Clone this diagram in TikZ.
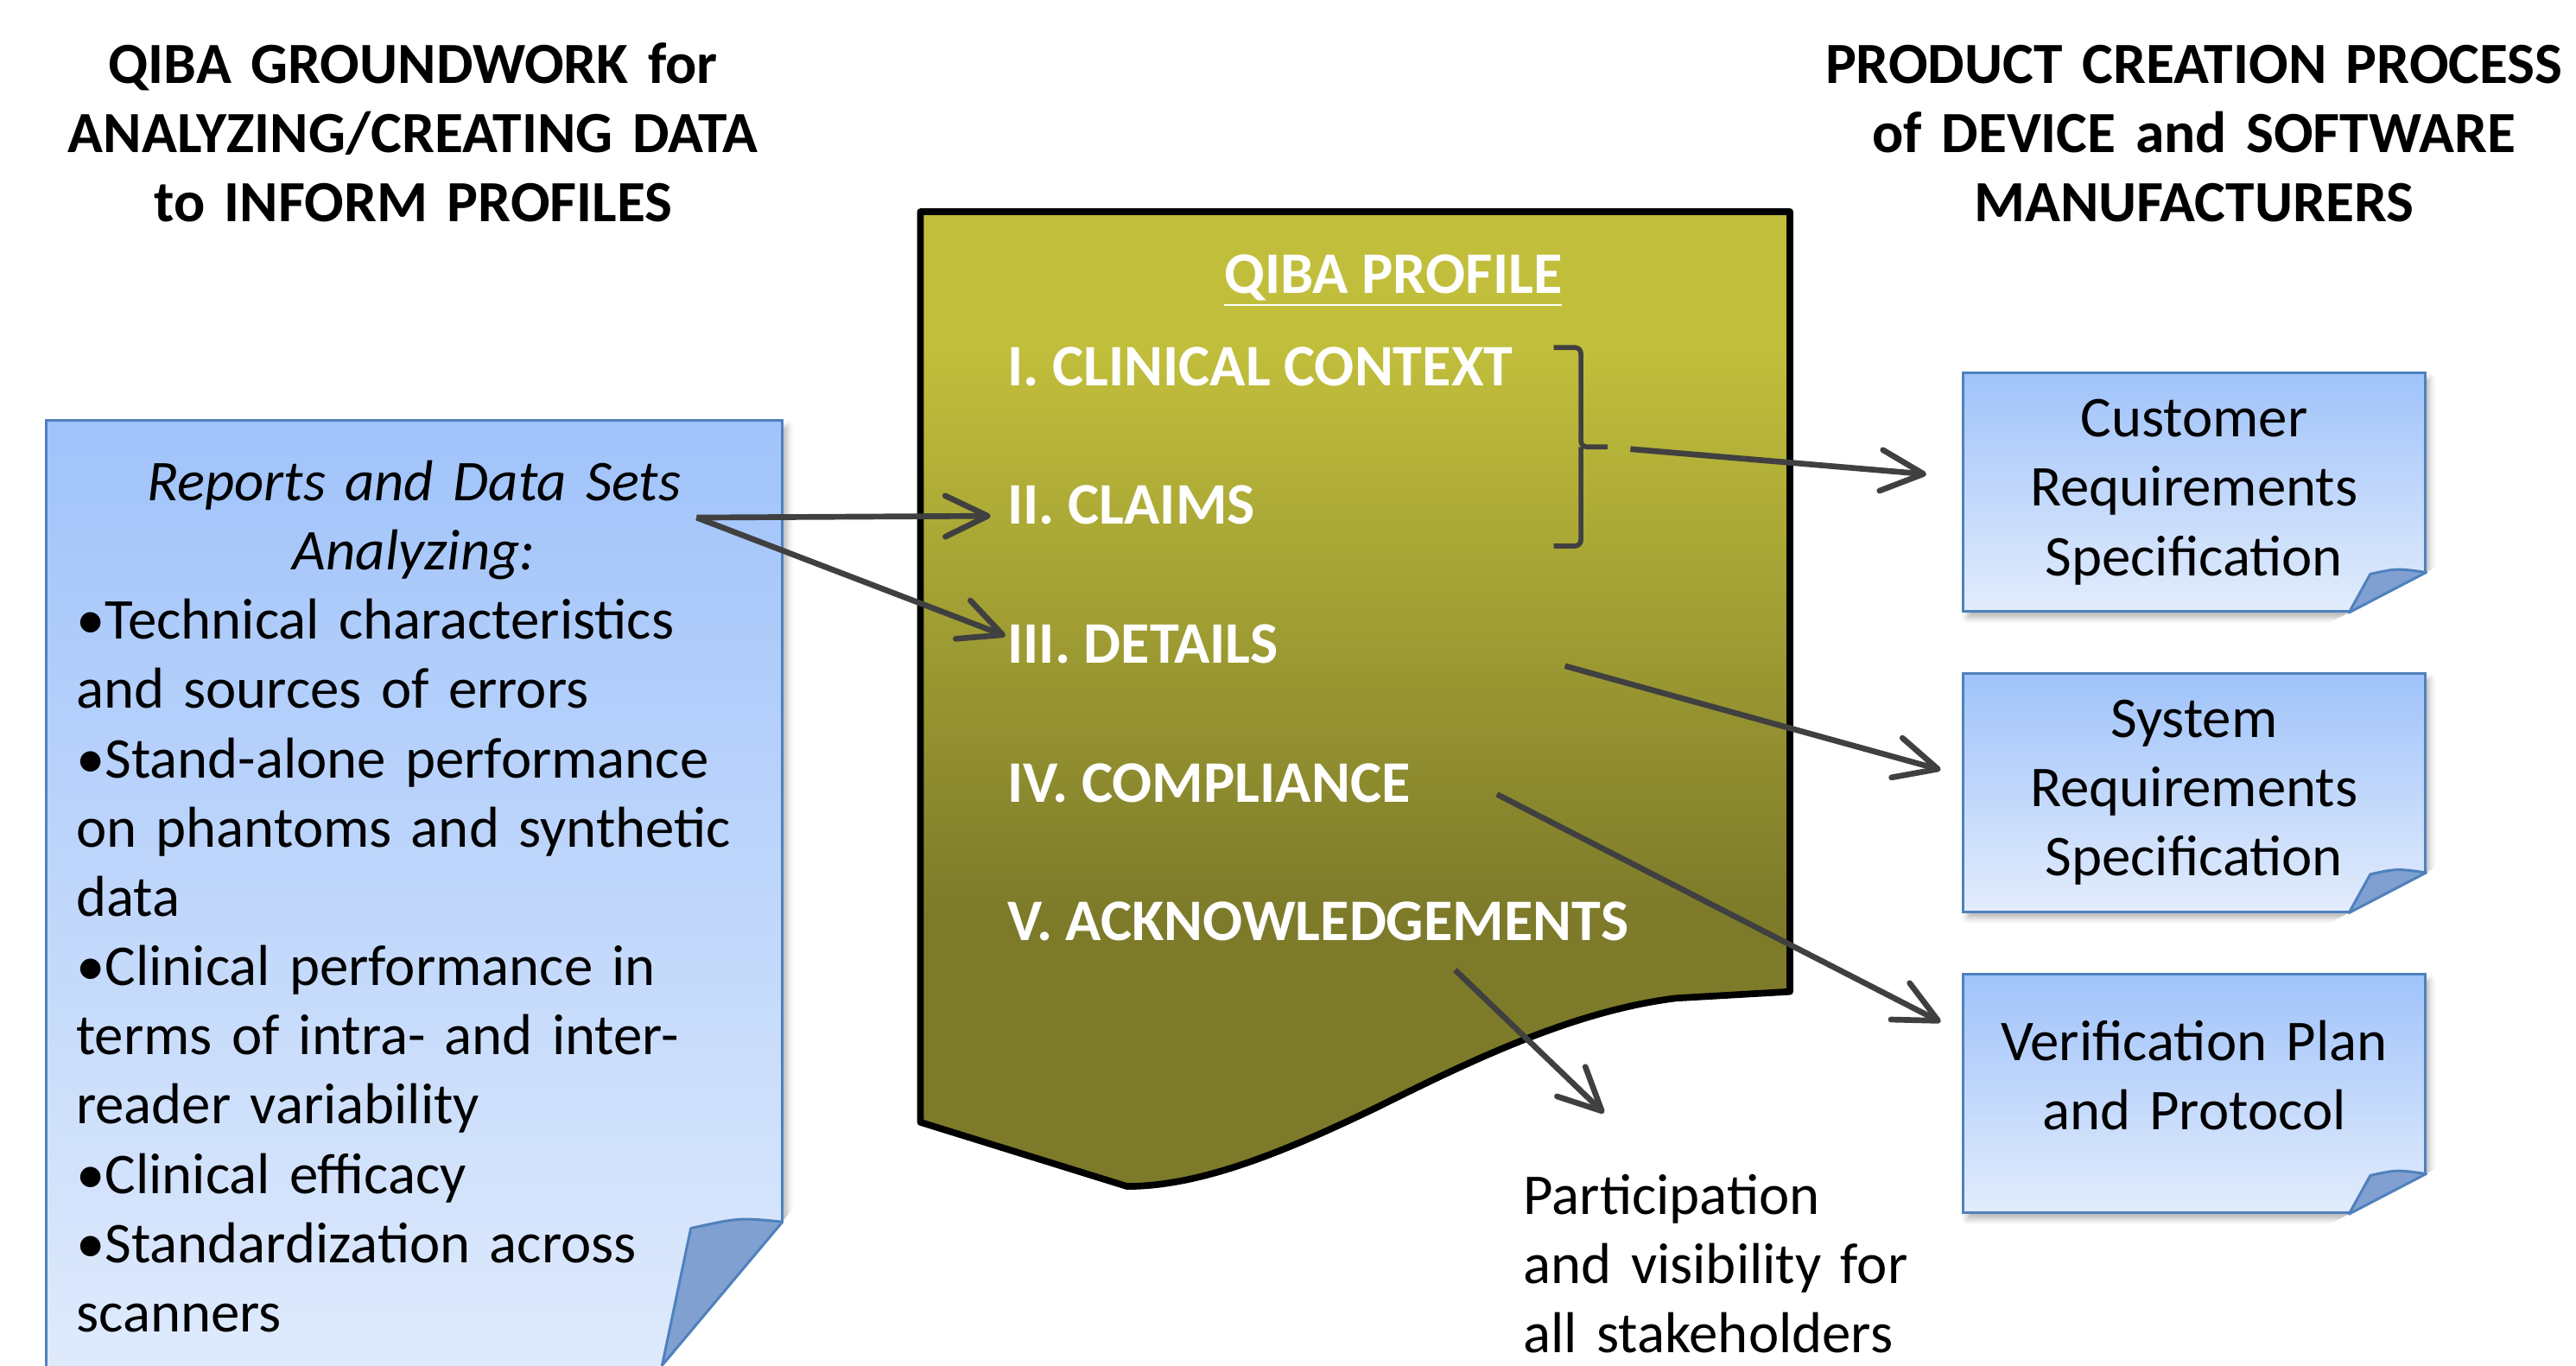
\documentclass[tikz,border=0pt]{standalone}
\usepackage{fontspec}
\setmainfont{Carlito}
\usetikzlibrary{positioning}
\usetikzlibrary{arrows.meta}
\usetikzlibrary{calc}
\usetikzlibrary{shadows.blur}

\definecolor{olivetop}{RGB}{193,190,60}
\definecolor{olivebot}{RGB}{125,123,42}
\definecolor{bluetop}{RGB}{160,195,250}
\definecolor{bluebot}{RGB}{226,236,252}
\definecolor{blueline}{RGB}{79,129,189}
\definecolor{flapblue}{RGB}{127,160,208}
\definecolor{arrowgray}{RGB}{64,64,64}

\pgfdeclareverticalshading{profilefade}{100bp}{color(0bp)=(olivebot); color(39bp)=(olivebot); color(68bp)=(olivetop); color(100bp)=(olivetop)}

\begin{document}
\begin{tikzpicture}[ x = 0.019018cm
                   , y = -0.019018cm
                   , >={Straight Barb[round, length=14pt, width=13.5pt]}
                   , every node/.style = { inner sep = 0pt }
                   ]
  \useasboundingbox (0,0) rectangle (1568,831);

  \tikzset{ title/.style={font=\fontsize{19.2}{22.8}\selectfont\bfseries, text width=265pt, align=center, anchor=base}
          , body/.style={font=\fontsize{19}{22.8}\selectfont}
          , spec/.style={draw=blueline, line width=0.85pt, top color=bluetop, bottom color=bluebot,
                         blur shadow={shadow xshift=1.5pt, shadow yshift=-2pt, shadow blur radius=2pt, shadow opacity=30}}
          , flap/.style={fill=flapblue, draw=blueline, line width=0.85pt, line join=round}
          , item/.style={text=white, font=\fontsize{19.4}{23}\selectfont\bfseries, anchor=west}
          , link/.style={draw=arrowgray, line width=1.9pt, ->}
          }

  %%
  %% Headings
  %%
  \node (groundtitle) [title] at (251.5,50.8) {QIBA GROUNDWORK for\\ ANALYZING/CREATING DATA\\ to INFORM PROFILES};
  \node (prodtitle) [title] at (1335.5,50.8) {PRODUCT CREATION PROCESS\\ of DEVICE and SOFTWARE\\ MANUFACTURERS};

  %%
  %% Reports box (left)
  %%
  \node (repbox) [spec, minimum width=242.6pt, minimum height=326.8pt] at (252.15,558) {};
  \fill[white] (484.3,734) -- (484.3,870) -- (370.3,870) -- cycle;
  \draw[flap] (476.3,743.6) .. controls (450,741) .. (420.5,747.5) -- (403,831) -- cycle;
  \node (rephead) [body, text width=240pt, align=center, anchor=base] at (252,304.5)
        {\itshape Reports and Data Sets\\ Analyzing:};
  \node (replist) [body, text width=225pt, align=left, anchor=base west] at (46,389)
        {•Technical characteristics\\ and sources of errors\\ •Stand-alone performance\\
         on phantoms and synthetic\\ data\\ •Clinical performance in\\ terms of intra- and inter-\\
         reader variability\\ •Clinical efficacy\\ •Standardization across\\ scanners};

  %%
  %% Specification boxes (right)
  %%
  \node (cust) [spec, body, minimum width=152pt, minimum height=78.5pt, text width=145pt, align=center]
        at (1335.5,299.5) {Customer\\ Requirements\\ Specification};
  \node (sys) [spec, body, minimum width=152pt, minimum height=78.5pt, text width=145pt, align=center,
        below = 19.5pt of cust] {System\\ Requirements\\ Specification};
  \node (ver) [spec, body, minimum width=152pt, minimum height=78.5pt, text width=145pt, align=center,
        text depth=35pt, below = 19.8pt of sys] {Verification Plan\\ and Protocol};
  % folded corners
  \foreach \b in {cust, sys, ver} {
    \fill[white] ($(\b.south east)+(8,-28.7)$) -- ($(\b.south east)+(8,10)$)
                 -- ($(\b.south east)+(-66,10)$) -- cycle;
    \draw[flap] ($(\b.south east)+(0,-24.5)$) .. controls ($(\b.south east)+(-18,-27)$)
                .. ($(\b.south east)+(-34,-23.5)$) -- ($(\b.south east)+(-47,0)$) -- cycle;
  }

  %%
  %% Profile document (centre)
  %%
  \draw[line width=2.2pt, line join=round, shading=profilefade]
        (560.3,128.8) -- (1089.5,128.8) -- (1089.5,603.5) -- (1020,607.5)
        .. controls (960,615) and (900,643) .. (840,673)
        .. controls (780,702) and (730,722) .. (686,722) -- (560.3,683) -- cycle;

  \node (qiba) [text=white, font=\fontsize{19.4}{23}\selectfont\bfseries, anchor=base]
        at (848,178.5) {\underline{QIBA PROFILE}};
  \node (ctx) [item] at (613,223) {I. CLINICAL CONTEXT};
  \node (claims) [item, below = 45.7pt of ctx.west, anchor=west] {II. CLAIMS};
  \node (details) [item, below = 45.7pt of claims.west, anchor=west] {III. DETAILS};
  \node (compl) [item, below = 45.7pt of details.west, anchor=west] {IV. COMPLIANCE};
  \node (ack) [item, below = 45.7pt of compl.west, anchor=west] {V. ACKNOWLEDGEMENTS};

  \node (part) [body, text width=130pt, align=left, anchor=base west] at (927,739)
        {Participation\\ and visibility for\\ all stakeholders};

  %%
  %% Arrows
  %%
  \coordinate (rep-out) at (424,315);
  \coordinate (claims-in) at (603,314);
  \coordinate (details-in) at (612,387);
  \coordinate (brace-out) at (992.4,273.3);
  \coordinate (cust-in) at (1172.6,288.6);
  \coordinate (details-out) at (952.6,405.3);
  \coordinate (sys-in) at (1181.3,468.5);
  \coordinate (compl-out) at (911.2,483.4);
  \coordinate (ver-in) at (1181.3,622);
  \coordinate (ack-out) at (885.7,590.3);
  \coordinate (part-in) at (976.3,677.4);

  % brace round items I and II
  \draw[draw=arrowgray, line width=1.6pt, rounded corners=2pt]
        (945.7,211.5) -| (962.3,272) -- (978.5,272)
        (962.3,272) |- (945.7,332.3);

  \draw[link] (rep-out) -- (claims-in);
  \draw[link] (rep-out) -- (details-in);
  \draw[link] (brace-out) -- (cust-in);
  \draw[link] (details-out) -- (sys-in);
  \draw[link] (compl-out) -- (ver-in);
  \draw[link] (ack-out) -- (part-in);
\end{tikzpicture}
\end{document}
